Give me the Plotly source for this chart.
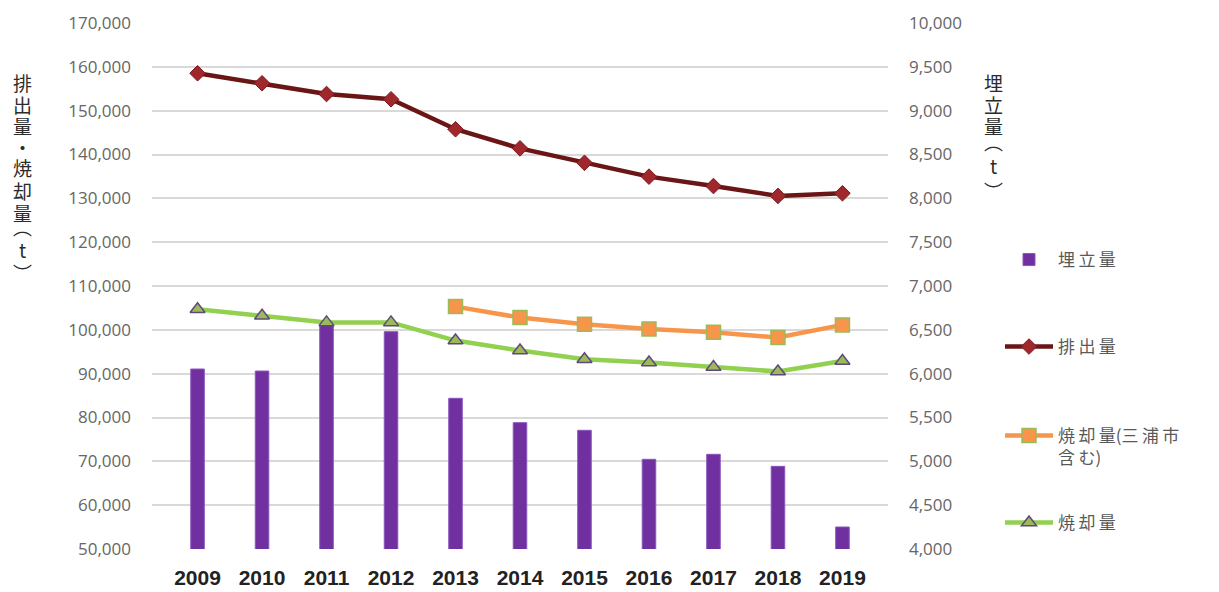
import plotly.graph_objects as go

# 年度
years = ["2009", "2010", "2011", "2012", "2013", "2014", "2015", "2016", "2017", "2018", "2019"]

# 埋立量 (t) - right axis
landfill = [6053, 6030, 6563, 6479, 5719, 5441, 5354, 5023, 5080, 4943, 4251]

# 排出量 (t) - left axis
discharge = [158530, 156250, 153800, 152600, 145760, 141400, 138100, 134950, 132800, 130550, 131150]

# 焼却量(三浦市含む) (t) - left axis, from 2013
incin_miura = [None, None, None, None, 105300, 102800, 101300, 100200, 99450, 98240, 101130]

# 焼却量 (t) - left axis
incin = [104700, 103200, 101700, 101700, 97550, 95270, 93300, 92530, 91500, 90500, 92900]

left_ticks = list(range(50000, 170001, 10000))
right_ticks = list(range(4000, 10001, 500))

TICK_FONT = dict(family="Open Sans, Noto Sans, sans-serif", size=17, color="#666666")
LEG_FONT = dict(family="Noto Sans CJK JP, sans-serif", size=17, color="#595959")
TITLE_FONT = dict(family="Noto Sans CJK JP, sans-serif", size=19, color="#2b2b2b")

fig = go.Figure()

fig.add_trace(go.Bar(
    x=years, y=landfill, name="埋\u2009立\u2009量",
    marker=dict(color="#7030A0", line=dict(color="#8A55BD", width=1)),
    yaxis="y", legend="legend", showlegend=True,
))

fig.add_trace(go.Scatter(
    x=years, y=discharge, name="排\u2009出\u2009量", mode="lines+markers",
    line=dict(color="#6A1616", width=4.5),
    marker=dict(symbol="diamond", size=12, color="#A0282D", line=dict(color="#7A1A1E", width=1)),
    yaxis="y2", legend="legend2", showlegend=True,
))

fig.add_trace(go.Scatter(
    x=years, y=incin_miura, name="焼\u2009却\u2009量(三\u2009浦\u2009市<br>含\u2009む)", mode="lines+markers",
    line=dict(color="#F7964A", width=4.5),
    marker=dict(symbol="square", size=14, color="#F7964A", line=dict(color="#9BBB59", width=1.5)),
    yaxis="y2", legend="legend3", showlegend=True,
))

fig.add_trace(go.Scatter(
    x=years, y=incin, name="焼\u2009却\u2009量", mode="lines+markers",
    line=dict(color="#92D050", width=4.5),
    marker=dict(symbol="triangle-up", size=13, color="#9BBB59", line=dict(color="#5F497A", width=1.5)),
    yaxis="y2", legend="legend4", showlegend=True,
))

# plot-area geometry (pixels) for paper coordinate conversions
ML, MR, MT, MB = 152, 331, 23, 43
W, H = 1219, 592
PW, PH = W - ML - MR, H - MT - MB


def px_x(x):
    return (x - ML) / PW


def px_y(y):
    return (H - MB - y) / PH


legend_common = dict(
    x=px_x(1000), xanchor="left", yanchor="middle",
    font=LEG_FONT, bgcolor="rgba(0,0,0,0)", borderwidth=0,
    itemwidth=48, valign="top",
)

fig.update_layout(
    width=W, height=H,
    showlegend=True,
    margin=dict(l=ML, r=MR, t=MT, b=MB, pad=0, autoexpand=False),
    paper_bgcolor="white", plot_bgcolor="white",
    bargap=0.79,
    xaxis=dict(
        type="category", showgrid=False, showline=False, ticks="", automargin=False,
        tickfont=dict(family="Liberation Sans Narrow, Arial Narrow, sans-serif", size=21,
                      color="#222222", weight="bold"),
        ticklabelstandoff=14,
    ),
    yaxis=dict(
        side="right", range=[4000, 10000], tickvals=right_ticks, automargin=False,
        tickformat=",", showgrid=True, gridcolor="#D9D9D9", gridwidth=1.5,
        zeroline=False, showline=False, ticks="", tickfont=TICK_FONT,
        ticklabelstandoff=20,
    ),
    yaxis2=dict(
        side="left", overlaying="y", range=[50000, 170000], tickvals=left_ticks,
        automargin=False,
        tickformat=",", showgrid=False, zeroline=False, showline=False, ticks="",
        tickfont=TICK_FONT, ticklabelstandoff=20,
    ),
    legend=dict(y=px_y(260), **legend_common),
    legend2=dict(y=px_y(347), **legend_common),
    legend3=dict(y=px_y(447), **legend_common),
    legend4=dict(y=px_y(523), **legend_common),
)

# vertical axis titles, one glyph per line (vertical-form brackets)
left_title = ["排", "出", "量", "・", "焼", "却", "量", "︵", "t", "︶"]
left_pos = [82, 104, 126, 147, 168, 190, 212, 226, 249, 272]
for ch, yy in zip(left_title, left_pos):
    fig.add_annotation(text=ch, x=px_x(22), y=px_y(yy), xref="paper", yref="paper",
                       showarrow=False, borderpad=0, font=TITLE_FONT,
                       xanchor="center", yanchor="middle")

right_title = ["埋", "立", "量", "︵", "t", "︶"]
right_pos = [82, 104, 126, 141, 165, 191]
for ch, yy in zip(right_title, right_pos):
    fig.add_annotation(text=ch, x=px_x(993), y=px_y(yy), xref="paper", yref="paper",
                       showarrow=False, borderpad=0, font=TITLE_FONT,
                       xanchor="center", yanchor="middle")

fig.write_html("out.html")
